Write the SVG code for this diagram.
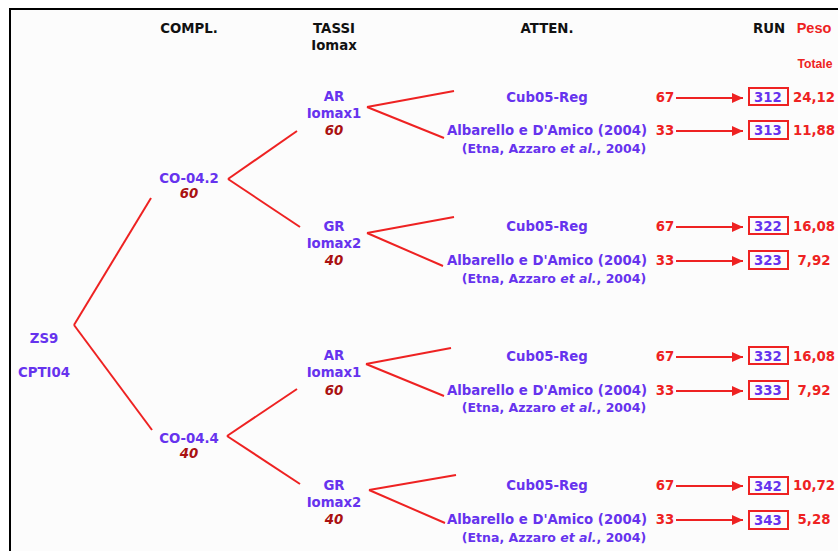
<svg xmlns="http://www.w3.org/2000/svg" width="838" height="551" viewBox="0 0 838 551">
<defs>
<style>
.t{font-family:"DejaVu Sans",Verdana,sans-serif;font-size:13.3px;font-weight:bold;text-anchor:middle}
.e{font-size:12.5px}
.h{fill:#111}
.b{fill:#6633ee}
.r{fill:#ee2222}
.d{fill:#aa1111;font-style:italic}
.a{font-family:"Liberation Sans",Arial,sans-serif;font-size:14.5px;font-weight:bold;text-anchor:middle;fill:#ee2222}
.ln{stroke:#ee2222;stroke-width:2;fill:none}
.box{stroke:#ee2222;stroke-width:2;fill:none}
</style>
<marker id="ah" markerUnits="userSpaceOnUse" markerWidth="12" markerHeight="12" refX="11" refY="6" orient="auto">
<path d="M0,1 L11,6 L0,11 Z" fill="#ee2222"/>
</marker>
</defs>
<rect x="0" y="0" width="838" height="551" fill="#fff"/>
<rect x="10" y="9" width="830" height="545" fill="#fcfcfc"/>
<path d="M10,551 L10,9 L838,9" stroke="#000" stroke-width="2" fill="none"/>

<g id="headers">
<text class="t h" x="189" y="33">COMPL.</text>
<text class="t h" x="334" y="33">TASSI</text>
<text class="t h" x="334" y="50">Iomax</text>
<text class="t h" x="547" y="33">ATTEN.</text>
<text class="t h" x="769" y="33">RUN</text>
<text class="a" x="814" y="33">Peso</text>
<text class="a" x="815" y="68" style="font-size:12.2px">Totale</text>
</g>

<g id="connectors">
<line class="ln" x1="74" y1="325" x2="151" y2="198"/>
<line class="ln" x1="74" y1="325" x2="152" y2="430"/>
<line class="ln" x1="228" y1="179" x2="297" y2="131"/>
<line class="ln" x1="228" y1="179" x2="300" y2="227"/>
<line class="ln" x1="227" y1="436" x2="297" y2="389"/>
<line class="ln" x1="227" y1="436" x2="300" y2="484"/>
<line class="ln" x1="367" y1="107" x2="454" y2="91"/>
<line class="ln" x1="367" y1="107" x2="444" y2="138"/>
<line class="ln" x1="367" y1="233" x2="454" y2="217"/>
<line class="ln" x1="367" y1="233" x2="443" y2="266"/>
<line class="ln" x1="366" y1="364" x2="451" y2="348"/>
<line class="ln" x1="366" y1="364" x2="444" y2="396"/>
<line class="ln" x1="369" y1="490" x2="456" y2="475"/>
<line class="ln" x1="369" y1="490" x2="445" y2="523"/>
<line class="ln" x1="676" y1="98" x2="743" y2="98" marker-end="url(#ah)"/>
<line class="ln" x1="676" y1="131" x2="743" y2="131" marker-end="url(#ah)"/>
<line class="ln" x1="676" y1="227" x2="743" y2="227" marker-end="url(#ah)"/>
<line class="ln" x1="676" y1="261" x2="743" y2="261" marker-end="url(#ah)"/>
<line class="ln" x1="676" y1="357" x2="743" y2="357" marker-end="url(#ah)"/>
<line class="ln" x1="676" y1="391" x2="743" y2="391" marker-end="url(#ah)"/>
<line class="ln" x1="676" y1="486" x2="743" y2="486" marker-end="url(#ah)"/>
<line class="ln" x1="676" y1="520" x2="743" y2="520" marker-end="url(#ah)"/>
</g>

<g id="root">
<text class="t b" x="44" y="343">ZS9</text>
<text class="t b" x="44" y="377">CPTI04</text>
</g>
<g id="co042">
<text class="t b" x="189" y="183">CO-04.2</text>
<text class="t d" x="189" y="198">60</text>
</g>
<g id="co044">
<text class="t b" x="189" y="443">CO-04.4</text>
<text class="t d" x="189" y="458">40</text>
</g>
<g id="ar1">
<text class="t b" x="334" y="101">AR</text>
<text class="t b" x="334" y="118">Iomax1</text>
<text class="t d" x="334" y="135">60</text>
</g>
<g id="gr1">
<text class="t b" x="334" y="231">GR</text>
<text class="t b" x="334" y="248">Iomax2</text>
<text class="t d" x="334" y="265">40</text>
</g>
<g id="ar2">
<text class="t b" x="334" y="360">AR</text>
<text class="t b" x="334" y="377">Iomax1</text>
<text class="t d" x="334" y="395">60</text>
</g>
<g id="gr2">
<text class="t b" x="334" y="490">GR</text>
<text class="t b" x="334" y="507">Iomax2</text>
<text class="t d" x="334" y="524">40</text>
</g>

<g id="block1">
<text class="t b" x="547" y="102">Cub05-Reg</text>
<text class="t b" x="547" y="135">Albarello e D'Amico (2004)</text>
<text class="t b e" x="554" y="153">(Etna, Azzaro <tspan font-style="italic">et al.</tspan>, 2004)</text>
<text class="t r" x="665" y="102">67</text>
<text class="t r" x="665" y="135">33</text>
</g>
<g id="run312"><rect class="box" x="749" y="88" width="39" height="17"/><text class="t b" x="768" y="101.5">312</text><text class="t r" x="814" y="102">24,12</text></g>
<g id="run313"><rect class="box" x="749" y="121" width="39" height="18"/><text class="t b" x="768" y="135">313</text><text class="t r" x="814" y="135">11,88</text></g>

<g id="block2">
<text class="t b" x="547" y="231">Cub05-Reg</text>
<text class="t b" x="547" y="265">Albarello e D'Amico (2004)</text>
<text class="t b e" x="554" y="283">(Etna, Azzaro <tspan font-style="italic">et al.</tspan>, 2004)</text>
<text class="t r" x="665" y="231">67</text>
<text class="t r" x="665" y="265">33</text>
</g>
<g id="run322"><rect class="box" x="749" y="217" width="39" height="17"/><text class="t b" x="768" y="230.5">322</text><text class="t r" x="814" y="231">16,08</text></g>
<g id="run323"><rect class="box" x="749" y="251" width="39" height="18"/><text class="t b" x="768" y="265">323</text><text class="t r" x="814" y="265">7,92</text></g>

<g id="block3">
<text class="t b" x="547" y="361">Cub05-Reg</text>
<text class="t b" x="547" y="395">Albarello e D'Amico (2004)</text>
<text class="t b e" x="554" y="412">(Etna, Azzaro <tspan font-style="italic">et al.</tspan>, 2004)</text>
<text class="t r" x="665" y="361">67</text>
<text class="t r" x="665" y="395">33</text>
</g>
<g id="run332"><rect class="box" x="749" y="347" width="39" height="17"/><text class="t b" x="768" y="360.5">332</text><text class="t r" x="814" y="361">16,08</text></g>
<g id="run333"><rect class="box" x="749" y="381" width="39" height="18"/><text class="t b" x="768" y="395">333</text><text class="t r" x="814" y="395">7,92</text></g>

<g id="block4">
<text class="t b" x="547" y="490">Cub05-Reg</text>
<text class="t b" x="547" y="524">Albarello e D'Amico (2004)</text>
<text class="t b e" x="554" y="542">(Etna, Azzaro <tspan font-style="italic">et al.</tspan>, 2004)</text>
<text class="t r" x="665" y="490">67</text>
<text class="t r" x="665" y="524">33</text>
</g>
<g id="run342"><rect class="box" x="749" y="477" width="39" height="17"/><text class="t b" x="768" y="490.5">342</text><text class="t r" x="814" y="490">10,72</text></g>
<g id="run343"><rect class="box" x="749" y="511" width="39" height="18"/><text class="t b" x="768" y="524.5">343</text><text class="t r" x="814" y="524">5,28</text></g>
</svg>
